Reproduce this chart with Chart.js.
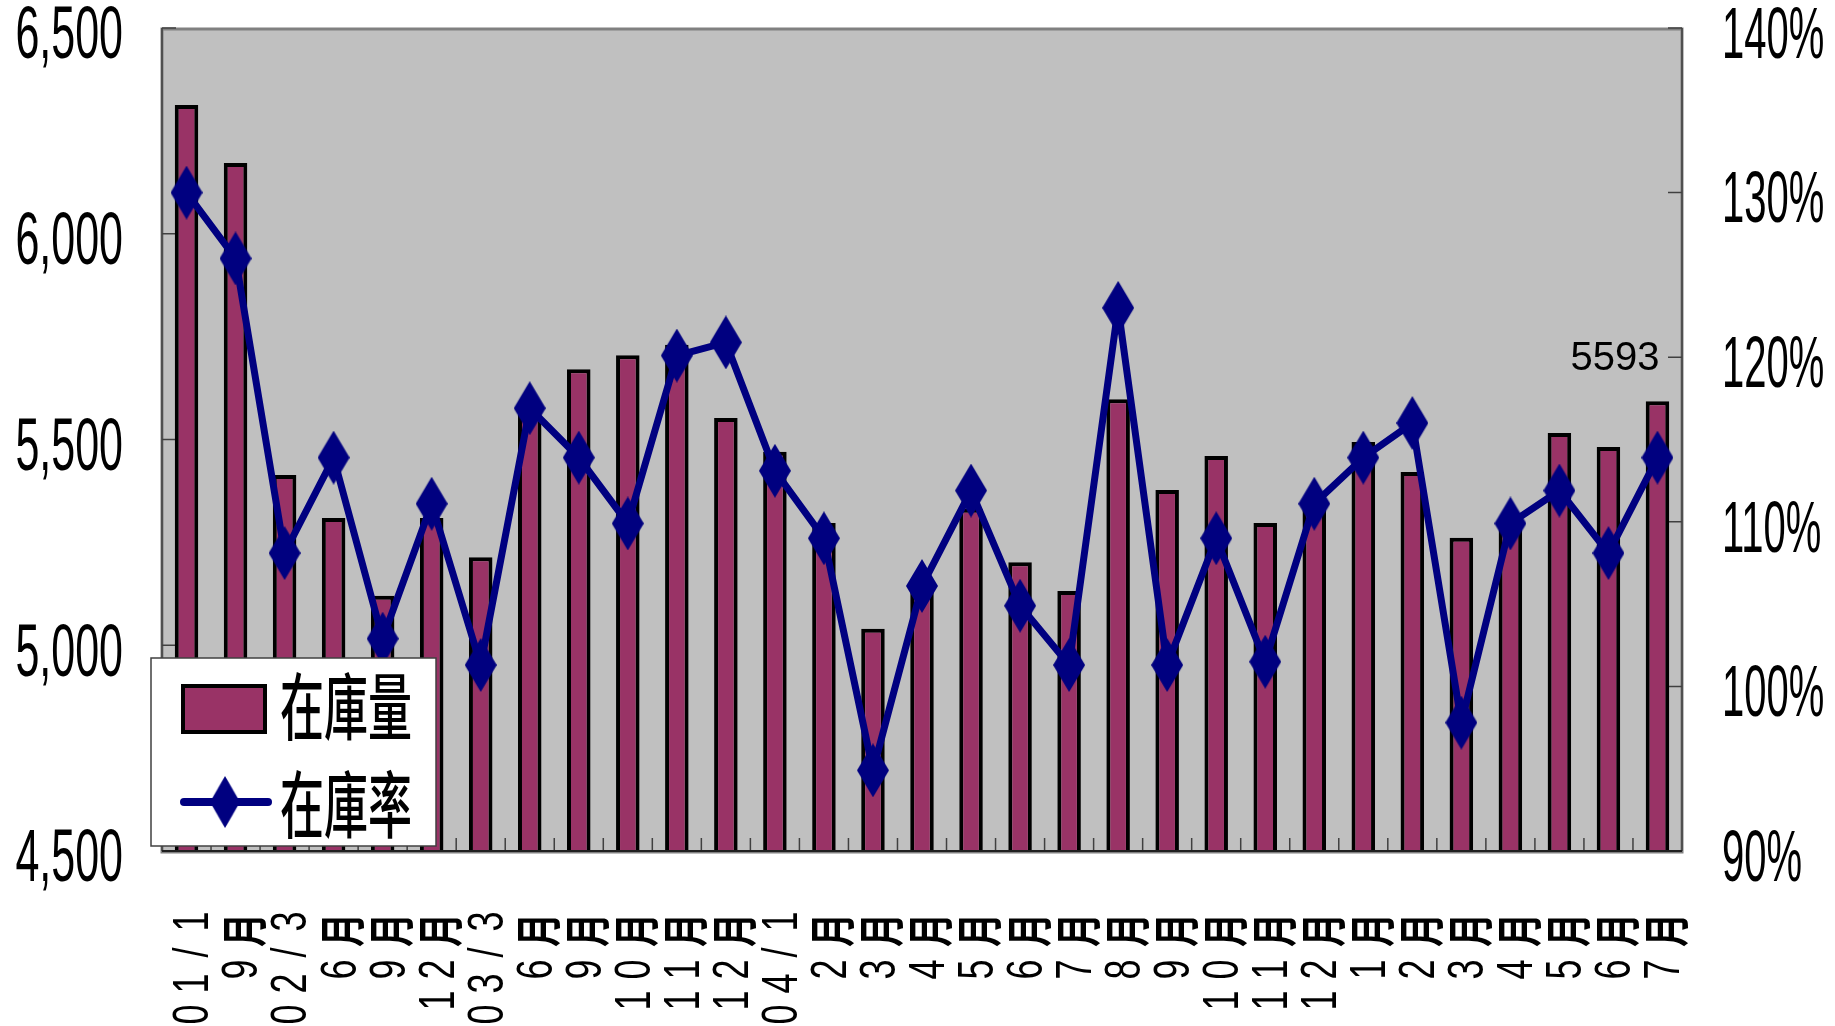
<!DOCTYPE html>
<html>
<head>
<meta charset="utf-8">
<script src="https://cdn.jsdelivr.net/npm/chart.js@4.4.0/dist/chart.umd.min.js"></script>
<style>
  body { margin: 0; background: #fff; }
  #wrap { width: 1835px; height: 1026px; }
</style>
</head>
<body>
<div id="wrap"><canvas id="stockChart" width="1835" height="1026"></canvas></div>
<script>
// Month labels, stock quantity and stock rate (%)
const months = ['01/1', '9月', '02/3', '6月', '9月', '12月', '03/3', '6月', '9月', '10月', '11月', '12月',
  '04/1', '2月', '3月', '4月', '5月', '6月', '7月', '8月', '9月', '10月', '11月', '12月',
  '1月', '2月', '3月', '4月', '5月', '6月', '7月'];
const stockQty = [6313, 6172, 5414, 5309, 5120, 5309, 5214, 5570, 5671, 5705, 5730, 5552,
  5470, 5297, 5040, 5160, 5332, 5202, 5132, 5598, 5377, 5460, 5297, 5340,
  5494, 5421, 5261, 5290, 5516, 5482, 5593];
const stockRate = [130.0, 126.0, 108.1, 113.9, 102.9, 111.1, 101.3, 116.9, 113.9, 109.9, 120.1, 120.9,
  113.1, 109.0, 94.9, 106.1, 111.9, 104.9, 101.3, 123.0, 101.3, 109.0, 101.5, 111.1,
  113.9, 116.0, 97.8, 109.9, 111.9, 108.1, 113.9];
const qtyTicks = [4500, 5000, 5500, 6000, 6500];
const rateTicks = [90, 100, 110, 120, 130, 140];

const BAR_COLOR = '#993366';
const LINE_COLOR = '#000080';

// tall diamond marker
const diamond = document.createElement('canvas');
diamond.width = 32;
diamond.height = 54;
(function () {
  const d = diamond.getContext('2d');
  d.fillStyle = LINE_COLOR;
  d.beginPath();
  d.moveTo(16, 0); d.lineTo(32, 27); d.lineTo(16, 54); d.lineTo(0, 27);
  d.closePath();
  d.fill();
})();

// text that is stretched vertically, like the original
function stretchText(ctx, text, x, y, font, sy, align) {
  ctx.save();
  ctx.translate(x, y);
  ctx.scale(1, sy);
  ctx.font = font;
  ctx.textAlign = align;
  ctx.textBaseline = 'middle';
  ctx.fillStyle = '#000';
  ctx.fillText(text, 0, 0);
  ctx.restore();
}

// rotated month label, one character at a time from the top down
function drawXLabel(ctx, label, x, top) {
  let y = top;
  Array.from(label).reverse().forEach(ch => {
    const cjk = ch.charCodeAt(0) > 255;
    const adv = cjk ? 48 : 31;
    ctx.save();
    ctx.translate(x, y + adv / 2);
    ctx.rotate(-Math.PI / 2);
    ctx.scale(1, cjk ? 1.35 : 1.4);
    ctx.font = cjk ? 'bold 34px "Noto Sans CJK TC"' : '36px "Liberation Sans"';
    ctx.textAlign = 'center';
    ctx.textBaseline = 'middle';
    ctx.fillStyle = '#000';
    ctx.fillText(ch, 0, 0);
    ctx.restore();
    y += adv;
  });
}

const framePlugin = {
  id: 'frame',
  beforeDatasetsDraw(chart) {
    const { ctx, chartArea: a, scales } = chart;
    ctx.save();
    ctx.fillStyle = '#C0C0C0';
    ctx.fillRect(a.left, a.top, a.right - a.left, a.bottom - a.top);
    ctx.strokeStyle = '#808080';
    ctx.lineWidth = 3;
    ctx.strokeRect(a.left, a.top + 1, a.right - a.left, a.bottom - a.top);

    ctx.strokeStyle = '#404040';
    ctx.lineWidth = 1.5;
    ctx.beginPath();
    ctx.moveTo(a.left, a.top); ctx.lineTo(a.left, a.bottom);
    ctx.moveTo(a.right, a.top); ctx.lineTo(a.right, a.bottom);
    qtyTicks.forEach(v => {
      const y = scales.y.getPixelForValue(v);
      ctx.moveTo(a.left, y); ctx.lineTo(a.left + 14, y);
    });
    rateTicks.forEach(v => {
      const y = scales.y1.getPixelForValue(v);
      ctx.moveTo(a.right - 14, y); ctx.lineTo(a.right, y);
    });
    for (let i = 0; i <= months.length; i++) {
      const x = i === 0 ? a.left : i === months.length ? a.right
        : (scales.x.getPixelForValue(i - 1) + scales.x.getPixelForValue(i)) / 2;
      ctx.moveTo(x, a.bottom); ctx.lineTo(x, a.bottom - 13);
    }
    ctx.stroke();
    ctx.restore();
  },
  afterDatasetsDraw(chart) {
    const { ctx, chartArea: a } = chart;
    ctx.save();
    ctx.strokeStyle = '#202020';
    ctx.lineWidth = 2;
    ctx.beginPath();
    ctx.moveTo(a.left, a.bottom); ctx.lineTo(a.right, a.bottom);
    ctx.stroke();

    // value label on last bar
    const meta = chart.getDatasetMeta(1);
    const last = meta.data[meta.data.length - 1];
    ctx.font = '40px "Liberation Sans"';
    ctx.textAlign = 'right';
    ctx.textBaseline = 'middle';
    ctx.fillStyle = '#000';
    ctx.fillText(String(stockQty[stockQty.length - 1]), last.x + 2, last.y - 42);
    ctx.restore();
  },
  afterDraw(chart) {
    const { ctx, scales } = chart;
    qtyTicks.forEach(v => {
      stretchText(ctx, v.toLocaleString('en-US'), 123, scales.y.getPixelForValue(v) + 10,
        '43px "Liberation Sans"', 1.72, 'right');
    });
    rateTicks.forEach(v => {
      stretchText(ctx, v + '%', 1722, scales.y1.getPixelForValue(v) + 10,
        '40px "Liberation Sans"', 1.8, 'left');
    });
    months.forEach((m, i) => drawXLabel(ctx, m, scales.x.getPixelForValue(i) + 8, 906));

    // legend box
    ctx.save();
    ctx.fillStyle = '#fff';
    ctx.fillRect(151, 658, 285, 188);
    ctx.strokeStyle = '#404040';
    ctx.lineWidth = 1.5;
    ctx.strokeRect(151, 658, 285, 188);
    ctx.fillStyle = BAR_COLOR;
    ctx.fillRect(183, 686, 82, 46);
    ctx.strokeStyle = '#000';
    ctx.lineWidth = 4;
    ctx.strokeRect(183, 686, 82, 46);
    ctx.strokeStyle = LINE_COLOR;
    ctx.lineWidth = 8;
    ctx.lineCap = 'round';
    ctx.beginPath();
    ctx.moveTo(184, 802); ctx.lineTo(268, 802);
    ctx.stroke();
    ctx.drawImage(diamond, 210, 776, 30, 52);
    ctx.restore();
    stretchText(ctx, '在庫量', 280, 706, '500 44px "Noto Sans CJK TC"', 1.65, 'left');
    stretchText(ctx, '在庫率', 280, 804, '500 44px "Noto Sans CJK TC"', 1.65, 'left');
  }
};

window.onload = function () {
  const ctx = document.getElementById('stockChart').getContext('2d');
  new Chart(ctx, {
    data: {
      labels: months,
      datasets: [{
        type: 'line',
        label: '在庫率',
        data: stockRate,
        yAxisID: 'y1',
        borderColor: LINE_COLOR,
        borderWidth: 7,
        tension: 0,
        pointStyle: diamond,
        pointRadius: 5,
        order: 1
      }, {
        type: 'bar',
        label: '在庫量',
        data: stockQty,
        yAxisID: 'y',
        backgroundColor: BAR_COLOR,
        borderColor: '#000',
        borderWidth: 4,
        barPercentage: 0.48,
        categoryPercentage: 1,
        order: 2
      }]
    },
    options: {
      responsive: false,
      animation: false,
      devicePixelRatio: 1,
      layout: { padding: { top: 28, left: 0, right: 0, bottom: 0 } },
      plugins: { legend: { display: false }, tooltip: { enabled: false } },
      scales: {
        x: {
          grid: { display: false }, border: { display: false }, ticks: { display: false },
          afterFit: s => { s.height = 175; }
        },
        y: {
          position: 'left', min: 4500, max: 6500,
          ticks: { display: false, stepSize: 500 }, grid: { display: false }, border: { display: false },
          afterFit: s => { s.width = 162; }
        },
        y1: {
          position: 'right', min: 90, max: 140,
          ticks: { display: false, stepSize: 10 }, grid: { display: false }, border: { display: false },
          afterFit: s => { s.width = 153; }
        }
      }
    },
    plugins: [framePlugin]
  });
};
</script>
</body>
</html>
